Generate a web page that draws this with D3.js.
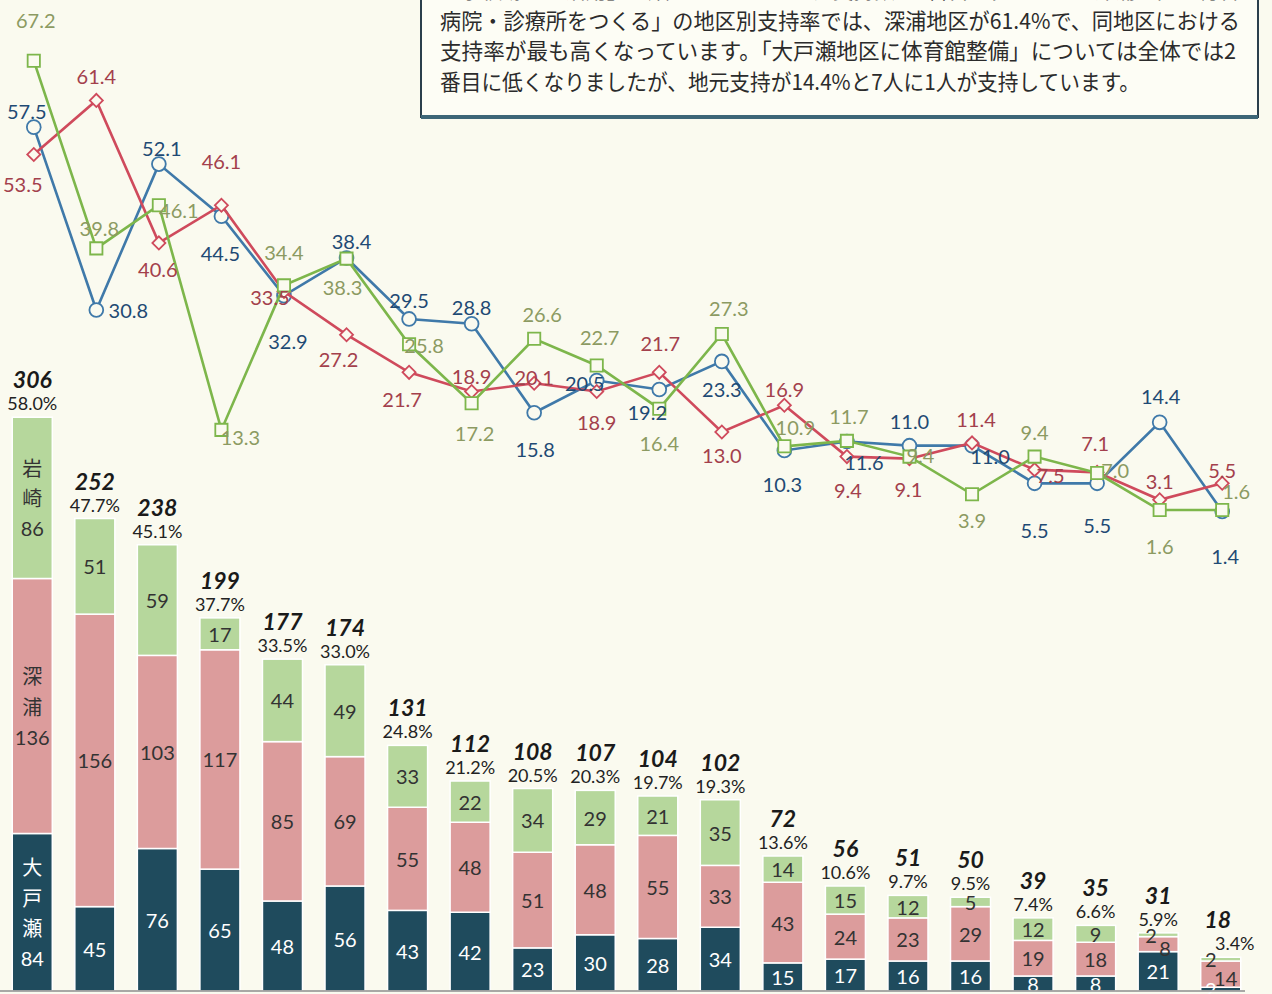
<!DOCTYPE html>
<html>
<head>
<meta charset="utf-8">
<script src="https://cdn.jsdelivr.net/npm/d3@7"></script>
<style>
  html, body { margin: 0; padding: 0; background: #fafaef; }
  svg { display: block; }
</style>
</head>
<body>
<div id="chart"></div>
<script>
// Items (x order), districts and counts
const items = ["1", "2", "3", "4", "5", "6", "7", "8", "9", "10",
  "11", "12", "13", "14", "15", "16", "17", "18", "19", "20"];
const districts = ["大戸瀬", "深浦", "岩崎"];

const oodose = [84, 45, 76, 65, 48, 56, 43, 42, 23, 30, 28, 34, 15, 17, 16, 16, 8, 8, 21, 2];
const fukaura = [136, 156, 103, 117, 85, 69, 55, 48, 51, 48, 55, 33, 43, 24, 23, 29, 19, 18, 8, 14];
const iwasaki = [86, 51, 59, 17, 44, 49, 33, 22, 34, 29, 21, 35, 14, 15, 12, 5, 12, 9, 2, 2];

const totals = [306, 252, 238, 199, 177, 174, 131, 112, 108, 107, 104, 102, 72, 56, 51, 50, 39, 35, 31, 18];
const totalPct = ["58.0", "47.7", "45.1", "37.7", "33.5", "33.0", "24.8", "21.2", "20.5", "20.3",
  "19.7", "19.3", "13.6", "10.6", "9.7", "9.5", "7.4", "6.6", "5.9", "3.4"];

// support rate inside each district (%)
const rateOodose = [57.5, 30.8, 52.1, 44.5, 32.9, 38.4, 29.5, 28.8, 15.8, 20.5,
  19.2, 23.3, 10.3, 11.6, 11.0, 11.0, 5.5, 5.5, 14.4, 1.4];
const rateFukaura = [53.5, 61.4, 40.6, 46.1, 33.5, 27.2, 21.7, 18.9, 20.1, 18.9,
  21.7, 13.0, 16.9, 9.4, 9.1, 11.4, 7.5, 7.1, 3.1, 5.5];
const rateIwasaki = [67.2, 39.8, 46.1, 13.3, 34.4, 38.3, 25.8, 17.2, 26.6, 22.7,
  16.4, 27.3, 10.9, 11.7, 9.4, 3.9, 9.4, 7.0, 1.6, 1.6];

const noteLines = [
  "「学校跡地の活用」の順になっています。支持数が2番目に多かった「深浦地区に総合",
  "病院・診療所をつくる」の地区別支持率では、深浦地区が61.4%で、同地区における",
  "支持率が最も高くなっています。「大戸瀬地区に体育館整備」については全体では2",
  "番目に低くなりましたが、地元支持が14.4%と7人に1人が支持しています。"
];

// label offsets (dx, dy) for the rate labels, relative to each marker
const offOodose = [[-7, -16], [32, 0], [3, -16], [-1, 37], [4, 45], [5, -17], [0, -19], [0, -17], [1, 36], [-12, 2],
  [-12, 23], [0, 28], [-2, 34], [17, 20], [0, -25], [18, 10], [0, 47], [0, 42], [1, -26], [3, 45]];
const offFukaura = [[-11, 29], [0, -24], [-1, 26], [0, -44], [-14, 5], [-8, 24], [-7, 27], [0, -16], [0, -6], [0, 30],
  [1, -29], [0, 23], [0, -16], [1, 33], [-1, 30], [4, -24], [16, 5], [-2, -29], [0, -19], [0, -13]];
const offIwasaki = [[2, -41], [3, -20], [20, 5], [19, 7], [0, -33], [-4, 28], [15, 1], [3, 30], [8, -25], [3, -29],
  [0, 34], [7, -26], [11, -19], [2, -25], [11, -2], [0, 26], [0, -25], [18, -3], [0, 36], [14, -19]];

const width = 1272, height = 994;
const font = "Lato, 'Noto Sans', sans-serif";
const jpFont = "'Noto Sans CJK JP', sans-serif";

const segColors = ["#1f4b5d", "#dc9c9c", "#b6d79c"];
const segText = ["#ffffff", "#333333", "#333333"];
const lineColors = ["#3f79a9", "#cf4a5c", "#7db64b"];
const labelColors = ["#1f4a74", "#a3404c", "#8c9a62"];

const svg = d3.select("#chart")
  .append("svg")
  .attr("width", width)
  .attr("height", height)
  .style("background", "#fafaef");

const x = d3.scaleBand()
  .domain(items)
  .range([1, 1252])
  .paddingInner(0.36)
  .paddingOuter(0.18);

const yBar = d3.scaleLinear().domain([0, 320]).range([991, 391]);
const yRate = d3.scaleLinear().domain([0, 70]).range([521, 41.5]);

const cx = function (i) { return x(items[i]) + x.bandwidth() / 2; };

// note box
const box = svg.append("g");
box.append("rect")
  .attr("x", 421).attr("y", -10)
  .attr("width", 837).attr("height", 127)
  .attr("fill", "#fdfdf5")
  .attr("stroke", "#2a3f4c")
  .attr("stroke-width", 2);
box.append("line")
  .attr("x1", 421).attr("x2", 1258)
  .attr("y1", 117).attr("y2", 117)
  .attr("stroke", "#3d6677")
  .attr("stroke-width", 4);
const lineLen = [800, 800, 796, 700];
box.selectAll("text.note")
  .data(noteLines)
  .enter()
  .append("text")
  .attr("class", "note")
  .attr("x", 440)
  .attr("y", function (d, i) { return -2 + i * 30.5; })
  .attr("textLength", function (d, i) { return lineLen[i]; })
  .attr("lengthAdjust", "spacingAndGlyphs")
  .style("font-family", jpFont)
  .style("font-size", "22px")
  .attr("fill", "#2b2b2b")
  .text(function (d) { return d; });

// stacked bars
const series = [oodose, fukaura, iwasaki];
const rows = items.map(function (k, i) {
  return { key: k, i: i, oodose: oodose[i], fukaura: fukaura[i], iwasaki: iwasaki[i] };
});
const stack = d3.stack().keys(["oodose", "fukaura", "iwasaki"])(rows);

const layers = svg.append("g")
  .selectAll("g.layer")
  .data(stack)
  .enter()
  .append("g")
  .attr("class", "layer")
  .attr("fill", function (d, k) { return segColors[k]; });

layers.selectAll("rect")
  .data(function (d) { return d; })
  .enter()
  .append("rect")
  .attr("x", function (d) { return x(d.data.key); })
  .attr("width", x.bandwidth())
  .attr("y", function (d) { return yBar(d[1]); })
  .attr("height", function (d) { return yBar(d[0]) - yBar(d[1]); })
  .attr("stroke", "#ffffff")
  .attr("stroke-width", 1.5);

// segment value labels (small ones are nudged sideways)
const nudge = { "18-2": -7, "18-1": 7, "19-2": -10, "19-1": 5, "19-0": -10 };
const segLabels = svg.append("g")
  .style("font-family", font)
  .style("font-size", "20px")
  .attr("text-anchor", "middle");

stack.forEach(function (layer, k) {
  layer.forEach(function (d, i) {
    const mid = (yBar(d[0]) + yBar(d[1])) / 2;
    if (i === 0) {
      const chars = districts[k].split("").concat([String(series[k][i])]);
      chars.forEach(function (c, j) {
        segLabels.append("text")
          .attr("x", cx(i))
          .attr("y", mid + (j - (chars.length - 1) / 2) * 30.5)
          .attr("dominant-baseline", "central")
          .attr("fill", segText[k])
          .style("font-family", j < chars.length - 1 ? jpFont : font)
          .text(c);
      });
      return;
    }
    const key = i + "-" + k;
    let dy = 0;
    if (key === "18-1") dy = 4;
    if (key === "19-1") dy = 4;
    segLabels.append("text")
      .attr("x", cx(i) + (nudge[key] || 0))
      .attr("y", mid + dy)
      .attr("dominant-baseline", "central")
      .attr("fill", segText[k])
      .text(series[k][i]);
  });
});

// totals and shares on top of each bar
const tops = svg.append("g").attr("text-anchor", "middle").style("font-family", font);
tops.selectAll("text.total")
  .data(totals)
  .enter()
  .append("text")
  .attr("class", "total")
  .attr("x", function (d, i) { return cx(i) + (i === 19 ? -3 : 0); })
  .attr("y", function (d) { return yBar(d) - 38; })
  .attr("dominant-baseline", "central")
  .style("font-size", "23px")
  .style("font-weight", "bold")
  .style("font-style", "italic")
  .attr("fill", "#1a1a1a")
  .text(function (d) { return d; });
tops.selectAll("text.pct")
  .data(totalPct)
  .enter()
  .append("text")
  .attr("class", "pct")
  .attr("x", function (d, i) { return cx(i) + (i === 19 ? 14 : 0); })
  .attr("y", function (d, i) { return yBar(totals[i]) - 14; })
  .attr("dominant-baseline", "central")
  .style("font-size", "18px")
  .attr("fill", "#222")
  .text(function (d) { return d + "%"; });

// baseline
svg.append("line")
  .attr("x1", 0).attr("x2", 1245)
  .attr("y1", 991).attr("y2", 991)
  .attr("stroke", "#8d8d8d")
  .attr("stroke-width", 1.5);

// rate lines
const rates = [rateOodose, rateFukaura, rateIwasaki];
const offsets = [offOodose, offFukaura, offIwasaki];
const symbols = [d3.symbolCircle, d3.symbolSquare, d3.symbolSquare];
const symbolSize = [150, 85, 150];

const line = d3.line()
  .x(function (d, i) { return cx(i) + 1.5; })
  .y(function (d) { return yRate(d); });

rates.forEach(function (vals, k) {
  const g = svg.append("g");
  g.append("path")
    .datum(vals)
    .attr("d", line)
    .attr("fill", "none")
    .attr("stroke", lineColors[k])
    .attr("stroke-width", 2.6);

  g.selectAll("path.mark")
    .data(vals)
    .enter()
    .append("path")
    .attr("class", "mark")
    .attr("d", d3.symbol().type(symbols[k]).size(symbolSize[k]))
    .attr("transform", function (d, i) {
      const rot = k === 1 ? " rotate(45)" : "";
      return "translate(" + (cx(i) + 1.5) + "," + yRate(d) + ")" + rot;
    })
    .attr("fill", "#fafaef")
    .attr("stroke", lineColors[k])
    .attr("stroke-width", 1.8);
});

// rate labels drawn last so they sit on top
rates.forEach(function (vals, k) {
  svg.append("g")
    .selectAll("text")
    .data(vals)
    .enter()
    .append("text")
    .attr("x", function (d, i) { return cx(i) + 1.5 + offsets[k][i][0]; })
    .attr("y", function (d, i) { return yRate(d) + offsets[k][i][1]; })
    .attr("text-anchor", "middle")
    .attr("dominant-baseline", "central")
    .style("font-family", font)
    .style("font-size", "20px")
    .attr("fill", labelColors[k])
    .text(function (d) { return d.toFixed(1); });
});
</script>
</body>
</html>
